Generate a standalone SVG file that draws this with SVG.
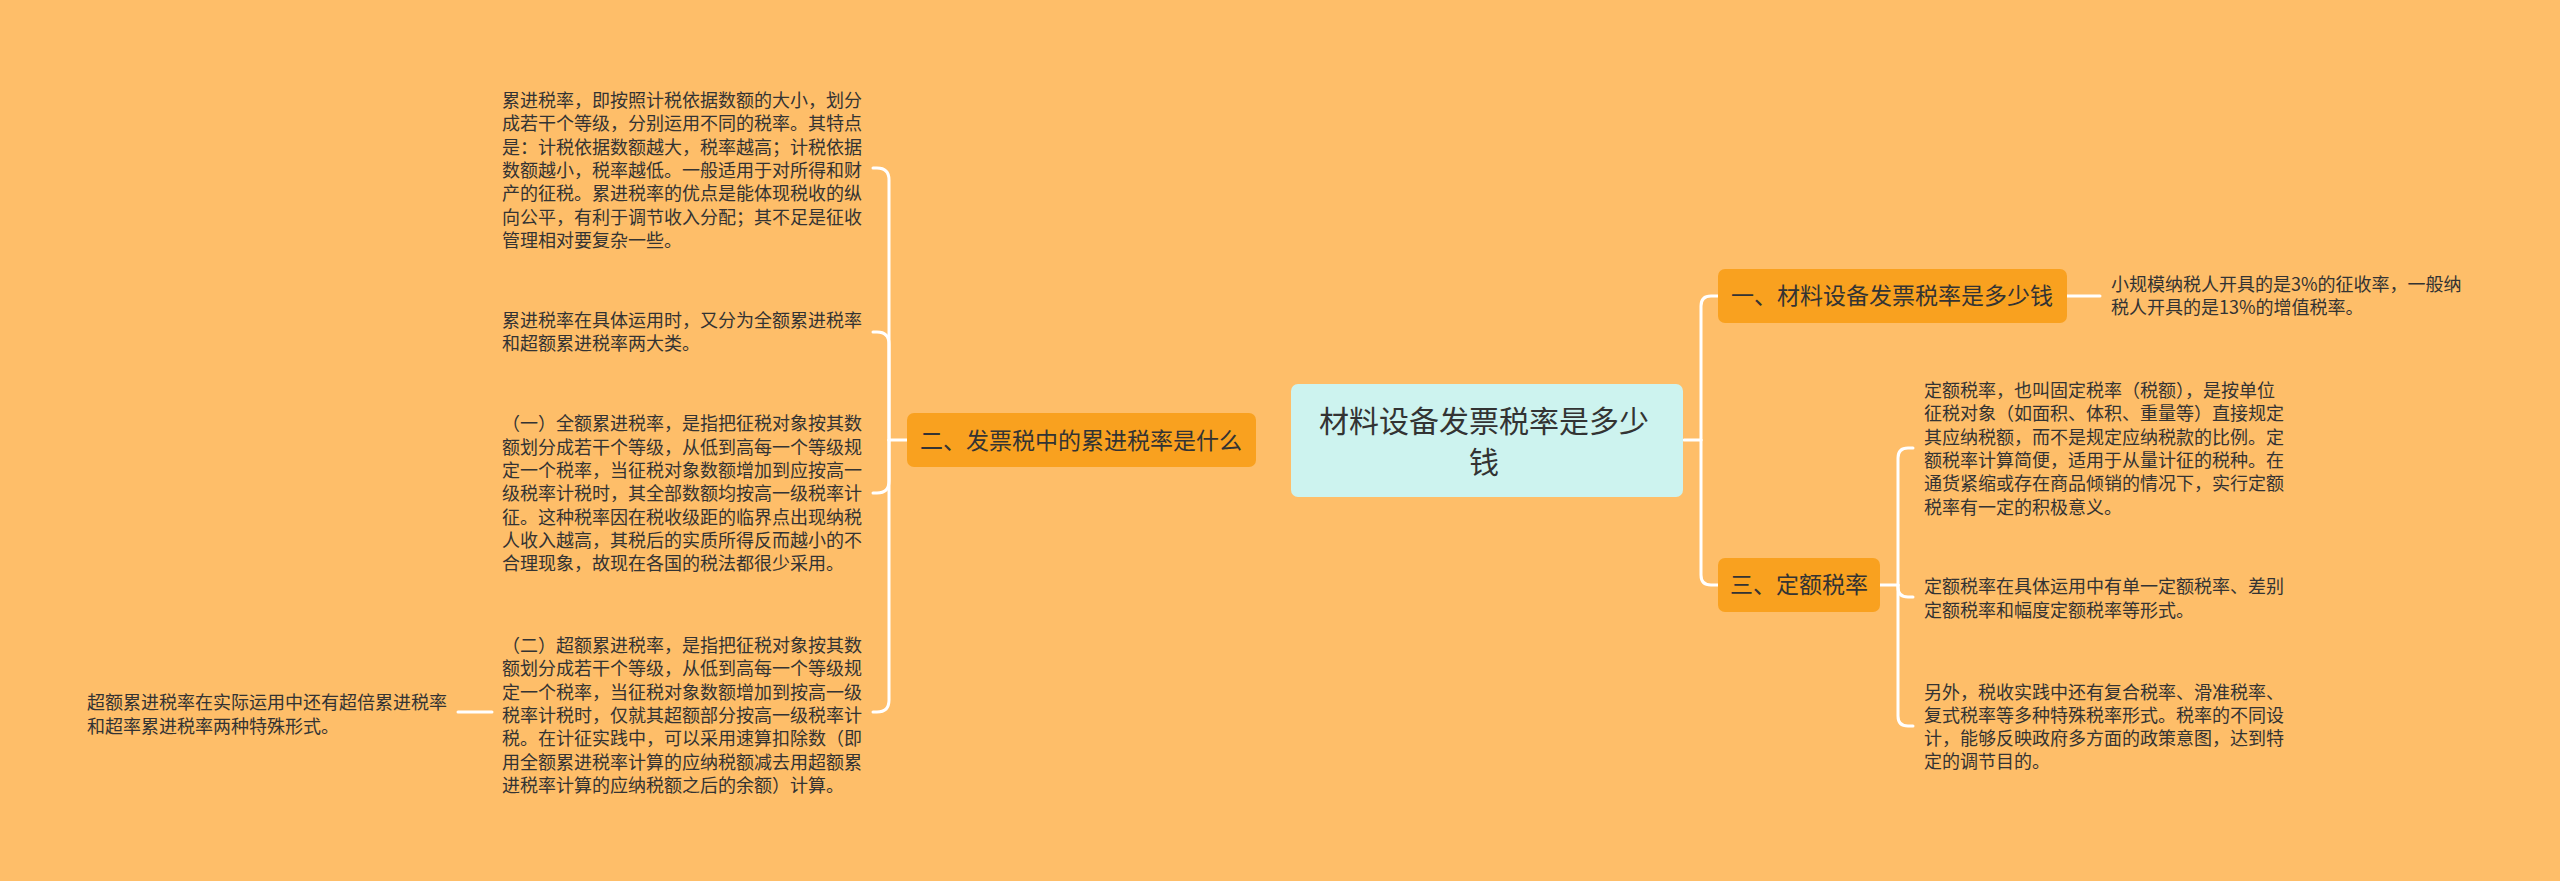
<svg xmlns="http://www.w3.org/2000/svg" width="2560" height="881" viewBox="0 0 2560 881">
<style>
.t{font-family:"Noto Sans CJK SC","Noto Sans",sans-serif;font-size:18px;fill:#333333}
.n{font-family:"Noto Sans CJK SC","Noto Sans",sans-serif;font-size:23px;fill:#333333;text-anchor:middle}
.r{font-family:"Noto Sans CJK SC","Noto Sans",sans-serif;font-size:30px;fill:#333333;text-anchor:middle}
.c{fill:none;stroke:#FFFFFF;stroke-width:3;stroke-linecap:round}
.ob{fill:#F9A11F}
</style>
<rect x="0" y="0" width="2560" height="881" fill="#FEBE69"/>
<g id="connectors">
<path class="c" d="M1684,440 L1701,440"/>
<path class="c" d="M1701,440 L1701,306 Q1701,296 1711,296 L1718,296"/>
<path class="c" d="M1701,440 L1701,575 Q1701,585 1711,585 L1718,585"/>
<path class="c" d="M2067,296 L2100,296"/>
<path class="c" d="M1880,585 L1898,585"/>
<path class="c" d="M1898,585 L1898,458 Q1898,448 1908,448 L1913,448"/>
<path class="c" d="M1898,585 L1898,587 Q1898,597 1908,597 L1913,597"/>
<path class="c" d="M1898,585 L1898,716 Q1898,726 1908,726 L1913,726"/>
<path class="c" d="M907,440 L889,440"/>
<path class="c" d="M889,440 L889,180 Q889,168 877,168 L873,168"/>
<path class="c" d="M889,440 L889,344 Q889,332 877,332 L873,332"/>
<path class="c" d="M889,440 L889,481 Q889,493 877,493 L873,493"/>
<path class="c" d="M889,440 L889,700 Q889,712 877,712 L873,712"/>
<path class="c" d="M492,712 L458,712"/>
</g>
<g id="root">
<rect x="1291" y="384" width="392" height="113" rx="7" fill="#CDF3EF"/>
<text class="r" x="1484" y="432">材料设备发票税率是多少</text>
<text class="r" x="1484" y="473">钱</text>
</g>
<g id="node-1">
<rect class="ob" x="1718" y="269" width="349" height="54" rx="7"/>
<text class="n" x="1892" y="304">一、材料设备发票税率是多少钱</text>
</g>
<g id="node-1-leaf">
<text class="t" x="2111" y="291">小规模纳税人开具的是3%的征收率，一般纳</text>
<text class="t" x="2111" y="314">税人开具的是13%的增值税率。</text>
</g>
<g id="node-3">
<rect class="ob" x="1718" y="558" width="162" height="54" rx="7"/>
<text class="n" x="1799" y="593">三、定额税率</text>
</g>
<g id="node-3-leaf-1">
<text class="t" x="1924" y="397">定额税率，也叫固定税率（税额），是按单位</text>
<text class="t" x="1924" y="420">征税对象（如面积、体积、重量等）直接规定</text>
<text class="t" x="1924" y="444">其应纳税额，而不是规定应纳税款的比例。定</text>
<text class="t" x="1924" y="467">额税率计算简便，适用于从量计征的税种。在</text>
<text class="t" x="1924" y="490">通货紧缩或存在商品倾销的情况下，实行定额</text>
<text class="t" x="1924" y="514">税率有一定的积极意义。</text>
</g>
<g id="node-3-leaf-2">
<text class="t" x="1924" y="593">定额税率在具体运用中有单一定额税率、差别</text>
<text class="t" x="1924" y="617">定额税率和幅度定额税率等形式。</text>
</g>
<g id="node-3-leaf-3">
<text class="t" x="1924" y="699">另外，税收实践中还有复合税率、滑准税率、</text>
<text class="t" x="1924" y="722">复式税率等多种特殊税率形式。税率的不同设</text>
<text class="t" x="1924" y="745">计，能够反映政府多方面的政策意图，达到特</text>
<text class="t" x="1924" y="768">定的调节目的。</text>
</g>
<g id="node-2">
<rect class="ob" x="907" y="413" width="349" height="54" rx="7"/>
<text class="n" x="1081" y="449">二、发票税中的累进税率是什么</text>
</g>
<g id="node-2-leaf-1">
<text class="t" x="502" y="107">累进税率，即按照计税依据数额的大小，划分</text>
<text class="t" x="502" y="130">成若干个等级，分别运用不同的税率。其特点</text>
<text class="t" x="502" y="154">是：计税依据数额越大，税率越高；计税依据</text>
<text class="t" x="502" y="177">数额越小，税率越低。一般适用于对所得和财</text>
<text class="t" x="502" y="200">产的征税。累进税率的优点是能体现税收的纵</text>
<text class="t" x="502" y="224">向公平，有利于调节收入分配；其不足是征收</text>
<text class="t" x="502" y="247">管理相对要复杂一些。</text>
</g>
<g id="node-2-leaf-2">
<text class="t" x="502" y="327">累进税率在具体运用时，又分为全额累进税率</text>
<text class="t" x="502" y="350">和超额累进税率两大类。</text>
</g>
<g id="node-2-leaf-3">
<text class="t" x="502" y="430">（一）全额累进税率，是指把征税对象按其数</text>
<text class="t" x="502" y="454">额划分成若干个等级，从低到高每一个等级规</text>
<text class="t" x="502" y="477">定一个税率，当征税对象数额增加到应按高一</text>
<text class="t" x="502" y="500">级税率计税时，其全部数额均按高一级税率计</text>
<text class="t" x="502" y="524">征。这种税率因在税收级距的临界点出现纳税</text>
<text class="t" x="502" y="547">人收入越高，其税后的实质所得反而越小的不</text>
<text class="t" x="502" y="570">合理现象，故现在各国的税法都很少采用。</text>
</g>
<g id="node-2-leaf-4">
<text class="t" x="502" y="652">（二）超额累进税率，是指把征税对象按其数</text>
<text class="t" x="502" y="675">额划分成若干个等级，从低到高每一个等级规</text>
<text class="t" x="502" y="699">定一个税率，当征税对象数额增加到按高一级</text>
<text class="t" x="502" y="722">税率计税时，仅就其超额部分按高一级税率计</text>
<text class="t" x="502" y="745">税。在计征实践中，可以采用速算扣除数（即</text>
<text class="t" x="502" y="769">用全额累进税率计算的应纳税额减去用超额累</text>
<text class="t" x="502" y="792">进税率计算的应纳税额之后的余额）计算。</text>
</g>
<g id="node-2-leaf-4-child">
<text class="t" x="87" y="709">超额累进税率在实际运用中还有超倍累进税率</text>
<text class="t" x="87" y="733">和超率累进税率两种特殊形式。</text>
</g>
</svg>
